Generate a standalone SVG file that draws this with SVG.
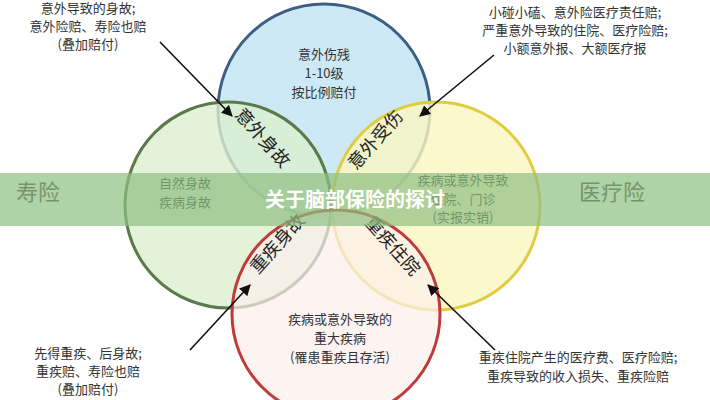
<svg xmlns="http://www.w3.org/2000/svg" width="710" height="400" viewBox="0 0 710 400">
<style>
text{font-family:"Noto Sans CJK SC","Noto Sans",sans-serif;fill:#333;text-anchor:middle}
.s{font-size:13px}
.l{font-size:18px;fill:#222}
.ar{stroke:#111;stroke-width:1.6;fill:none;marker-end:url(#a)}
</style>
<defs><marker id="a" viewBox="0 0 10 10" refX="9" refY="5" markerWidth="7" markerHeight="7" orient="auto"><path d="M0,0L10,5L0,10z" fill="#111"/></marker></defs>
<rect width="710" height="400" fill="#fff"/>
<g id="blue"><circle cx="324" cy="110" r="106" fill="#cde9f6" stroke="#3d5f86" stroke-width="3"/></g>
<g id="green"><circle cx="228" cy="205" r="103" fill="#dcefcf" fill-opacity="0.8" stroke="#5b7a4a" stroke-width="3"/></g>
<g id="yellow"><circle cx="436" cy="206" r="104" fill="#fbf6c2" fill-opacity="0.8" stroke="#e0cc40" stroke-width="3"/></g>
<g id="red"><circle cx="336" cy="314" r="104" fill="#fcefec" fill-opacity="0.7" stroke="#c03a3a" stroke-width="3"/></g>
<g id="labels">
<text class="s" x="324" y="59">意外伤残</text>
<text class="s" x="324" y="78">1-10级</text>
<text class="s" x="324" y="97">按比例赔付</text>
<text class="s" x="185" y="188">自然身故</text>
<text class="s" x="185" y="207">疾病身故</text>
<text class="s" x="463" y="185">疾病或意外导致</text>
<text class="s" x="463" y="204">住院、门诊</text>
<text class="s" x="463" y="222">(实报实销)</text>
<text class="s" x="340" y="324">疾病或意外导致的</text>
<text class="s" x="340" y="343">重大疾病</text>
<text class="s" x="340" y="362">(罹患重疾且存活)</text>
<text class="l" transform="translate(258,142) rotate(48)">意外身故</text>
<text class="l" transform="translate(380,144) rotate(-48)">意外受伤</text>
<text class="l" transform="translate(282,248) rotate(-48)">重疾身故</text>
<text class="l" transform="translate(388,250) rotate(48)">重疾住院</text>
<text x="38" y="200" font-size="22" fill="#555">寿险</text>
<text x="612" y="200" font-size="22" fill="#555">医疗险</text>
<text class="s" x="88" y="13">意外导致的身故;</text>
<text class="s" x="88" y="31">意外险赔、寿险也赔</text>
<text class="s" x="88" y="49">(叠加赔付)</text>
<text class="s" x="575" y="17">小碰小磕、意外险医疗责任赔;</text>
<text class="s" x="575" y="35">严重意外导致的住院、医疗险赔;</text>
<text class="s" x="575" y="53">小额意外报、大额医疗报</text>
<text class="s" x="88" y="358">先得重疾、后身故;</text>
<text class="s" x="88" y="376">重疾赔、寿险也赔</text>
<text class="s" x="88" y="394">(叠加赔付)</text>
<text class="s" x="578" y="362">重疾住院产生的医疗费、医疗险赔;</text>
<text class="s" x="578" y="381">重疾导致的收入损失、重疾险赔</text>
</g>
<g id="connectors">
<path class="ar" d="M160,42L232,116"/>
<path class="ar" d="M494,55L420,116"/>
<path class="ar" d="M190,350L250,285"/>
<path class="ar" d="M495,350L428,285"/>
</g>
<g id="banner">
<rect x="0" y="173" width="710" height="53" fill="#8fbf82" fill-opacity="0.7"/>
<text x="355" y="207" font-size="20" font-weight="bold" style="fill:#fff">关于脑部保险的探讨</text>
</g>
</svg>
